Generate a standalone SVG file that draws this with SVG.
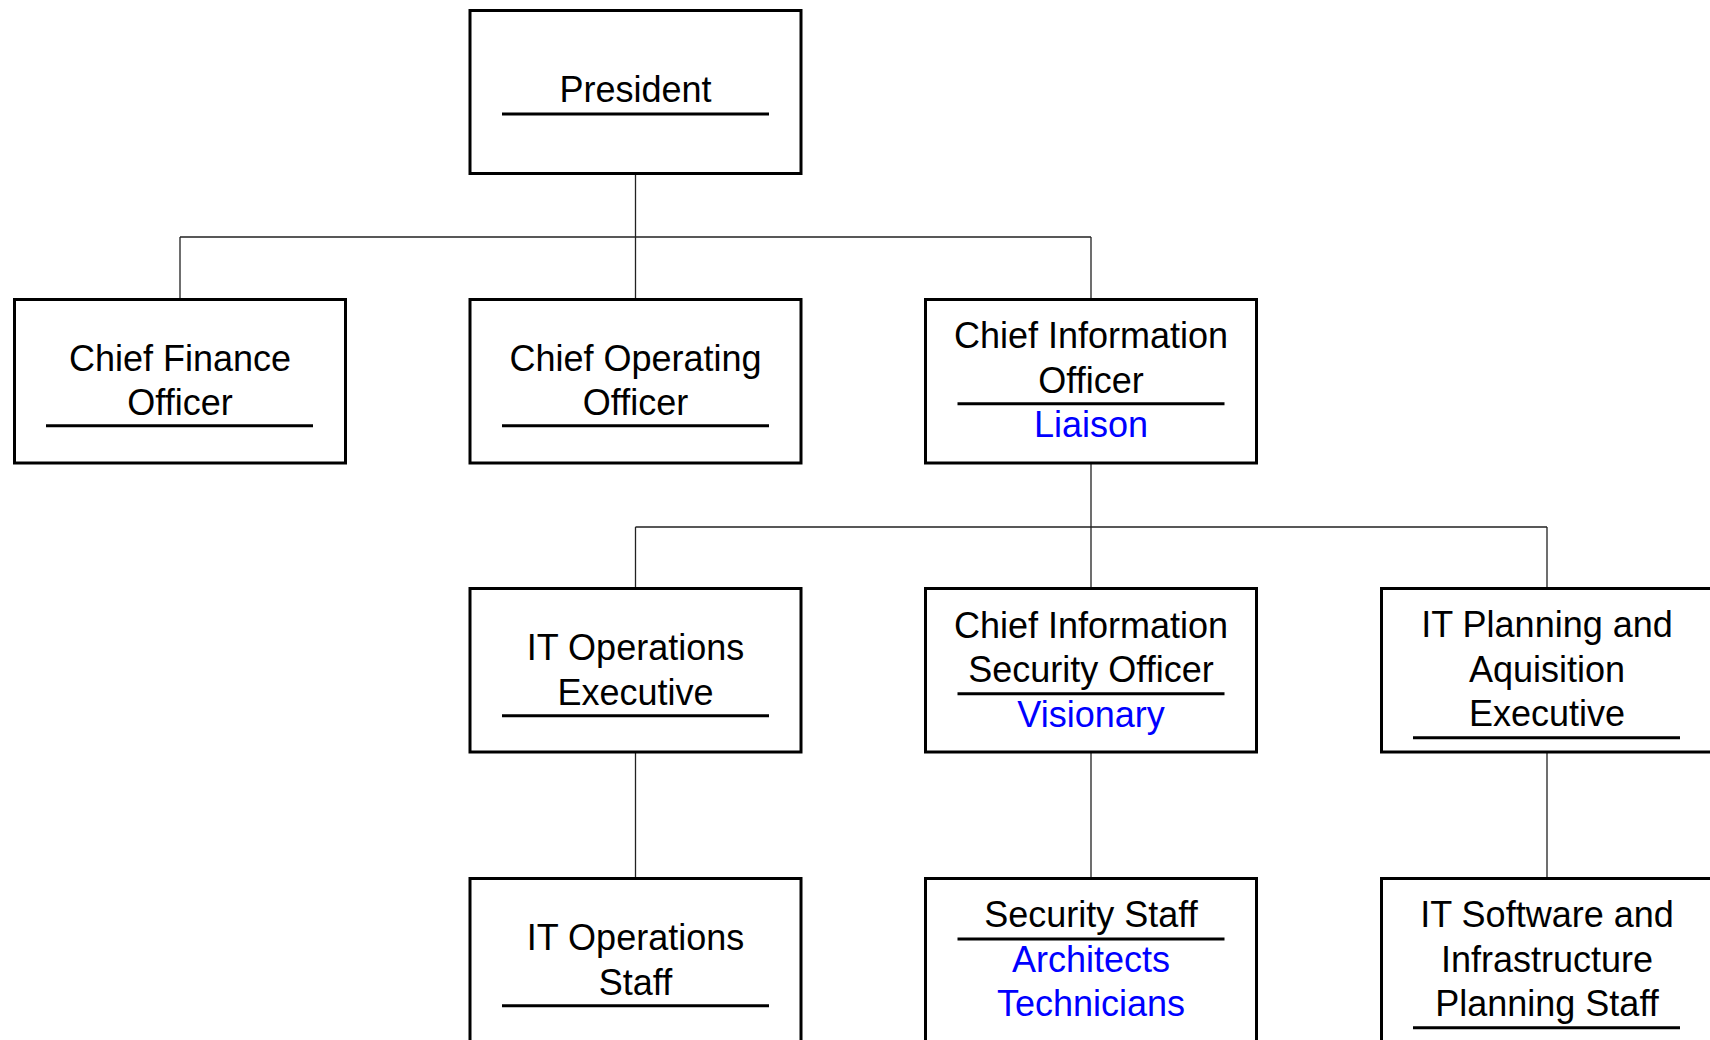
<svg xmlns="http://www.w3.org/2000/svg" width="1710" height="1040" viewBox="0 0 1710 1040">
<style>
.box{fill:#fff;stroke:#000;stroke-width:3}
.ul{stroke:#000;stroke-width:3;fill:none}
.t{font-family:"Liberation Sans",Arial,sans-serif;font-size:36px;fill:#000;text-anchor:middle}
.b{fill:#0000ff}
.c{stroke:#222;stroke-width:1.3;fill:none}
</style>
<rect width="1710" height="1040" fill="#fff"/>
<g id="connectors">
<path class="c" d="M635.5,174V237M180,237H1091M180,237V299M635.5,237V299M1091,237V299"/>
<path class="c" d="M1091,463V527M635.5,527H1547M635.5,527V588M1091,527V588M1547,527V588"/>
<path class="c" d="M635.5,753V877M1091,753V877M1547,753V877"/>
</g>
<g id="president">
<rect class="box" x="470" y="10.5" width="331" height="163"/>
<text class="t" x="635.5" y="101.7">President</text>
<line class="ul" x1="502" y1="114" x2="769" y2="114"/>
</g>
<g id="cfo">
<rect class="box" x="14.5" y="299.5" width="331" height="163.5"/>
<text class="t" x="180" y="370.7">Chief Finance</text>
<text class="t" x="180" y="415">Officer</text>
<line class="ul" x1="46" y1="425.7" x2="313" y2="425.7"/>
</g>
<g id="coo">
<rect class="box" x="470" y="299.5" width="331" height="163.5"/>
<text class="t" x="635.5" y="370.7">Chief Operating</text>
<text class="t" x="635.5" y="415">Officer</text>
<line class="ul" x1="502" y1="425.7" x2="769" y2="425.7"/>
</g>
<g id="cio">
<rect class="box" x="925.5" y="299.5" width="331" height="163.5"/>
<text class="t" x="1091" y="348.3">Chief Information</text>
<text class="t" x="1091" y="392.7">Officer</text>
<line class="ul" x1="957.5" y1="403.7" x2="1224.5" y2="403.7"/>
<text class="t b" x="1091" y="436.7">Liaison</text>
</g>
<g id="it-ops-exec">
<rect class="box" x="470" y="588.5" width="331" height="163.5"/>
<text class="t" x="635.5" y="660">IT Operations</text>
<text class="t" x="635.5" y="705">Executive</text>
<line class="ul" x1="502" y1="715.7" x2="769" y2="715.7"/>
</g>
<g id="ciso">
<rect class="box" x="925.5" y="588.5" width="331" height="163.5"/>
<text class="t" x="1091" y="638.3">Chief Information</text>
<text class="t" x="1091" y="681.7">Security Officer</text>
<line class="ul" x1="957.5" y1="693.7" x2="1224.5" y2="693.7"/>
<text class="t b" x="1091" y="726.7">Visionary</text>
</g>
<g id="it-planning-exec">
<rect class="box" x="1381.5" y="588.5" width="331" height="163.5"/>
<text class="t" x="1547" y="636.7">IT Planning and</text>
<text class="t" x="1547" y="681.7">Aquisition</text>
<text class="t" x="1547" y="726">Executive</text>
<line class="ul" x1="1413" y1="737.7" x2="1680" y2="737.7"/>
</g>
<g id="it-ops-staff">
<rect class="box" x="470" y="878.5" width="331" height="163.5"/>
<text class="t" x="635.5" y="950">IT Operations</text>
<text class="t" x="635.5" y="995">Staff</text>
<line class="ul" x1="502" y1="1005.7" x2="769" y2="1005.7"/>
</g>
<g id="security-staff">
<rect class="box" x="925.5" y="878.5" width="331" height="163.5"/>
<text class="t" x="1091" y="926.7">Security Staff</text>
<line class="ul" x1="957.5" y1="939" x2="1224.5" y2="939"/>
<text class="t b" x="1091" y="971.7">Architects</text>
<text class="t b" x="1091" y="1016">Technicians</text>
</g>
<g id="it-software-staff">
<rect class="box" x="1381.5" y="878.5" width="331" height="163.5"/>
<text class="t" x="1547" y="926.7">IT Software and</text>
<text class="t" x="1547" y="971.7">Infrastructure</text>
<text class="t" x="1547" y="1016">Planning Staff</text>
<line class="ul" x1="1413" y1="1027.7" x2="1680" y2="1027.7"/>
</g>
</svg>
